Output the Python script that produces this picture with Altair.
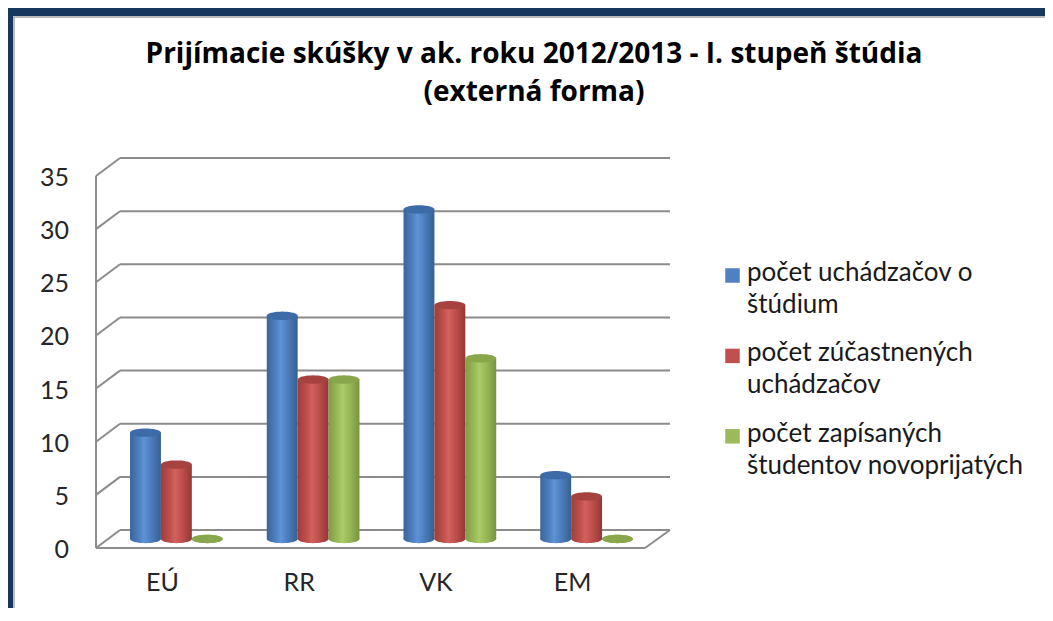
import math
import altair as alt
import pandas as pd

# ---------------- data ----------------
CATEGORIES = ["EÚ", "RR", "VK", "EM"]
SERIES = [
    "počet uchádzačov o štúdium",
    "počet zúčastnených uchádzačov",
    "počet zapísaných študentov novoprijatých",
]
UCHADZACI = [10, 21, 31, 6]
ZUCASTNENI = [7, 15, 22, 4]
ZAPISANI = [0, 15, 17, 0]
LEGEND_LINE1 = ["počet uchádzačov o", "počet zúčastnených", "počet zapísaných"]
LEGEND_LINE2 = ["štúdium", "uchádzačov", "študentov novoprijatých"]
TICKS = [0, 5, 10, 15, 20, 25, 30, 35]
TITLE_LINES = ["Prijímacie skúšky v ak. roku 2012/2013 - I. stupeň štúdia", "(externá forma)"]

# ---------------- style ----------------
W, H = 1037, 600
FONT = "Lato"
TITLE_FONT = "Open Sans"
NAVY = "#17375E"
GRID = "#8C8C8C"
BACK = 1.69   # depth offset of back wall in value units
MID = 0.85    # depth of the bars (mid floor)
YSCALE = dict(domain=[0, 35], range=[540, 168], nice=False, zero=False)
XSCALE = alt.Scale(domain=CATEGORIES, range=[100, 647], paddingInner=0.322, paddingOuter=0.161)
OFFSCALE = alt.Scale(domain=SERIES, paddingInner=0, paddingOuter=0)

BODY = [
    ("#3A6599", "#4F81C2", "#5E93D6", "#4A7BBA", "#36608F"),
    ("#9E3D3A", "#C0504D", "#D3625E", "#BC4E4B", "#933836"),
    ("#7F9C44", "#9BBB59", "#AACB68", "#96B656", "#789440"),
]
TOPS = ["#3C6BA8", "#A64340", "#88A64A"]

# ellipse path for the cylinder caps
pts = []
for i in range(40):
    a = 2 * math.pi * i / 40
    pts.append(f"{math.cos(a):.4f},{0.27 * math.sin(a):.4f}")
ELLIPSE = "M" + " L".join(pts) + " Z"
CAP_SIZE = 955

rows = []
for s, vals in zip(SERIES, [UCHADZACI, ZUCASTNENI, ZAPISANI]):
    for c, v in zip(CATEGORIES, vals):
        rows.append({"kategoria": c, "seria": s, "hodnota": v})
bars_df = pd.DataFrame(rows)

tick_df = pd.DataFrame({"tick": TICKS})
legend_df = pd.DataFrame({
    "seria": SERIES,
    "rank": list(range(len(SERIES))),
    "text": [a + "\n" + b for a, b in zip(LEGEND_LINE1, LEGEND_LINE2)],
})
title_df = pd.DataFrame({"t": ["\n".join(TITLE_LINES)]})
cat_df = pd.DataFrame({"kategoria": CATEGORIES})
one = pd.DataFrame({"a": [1]})


def ysc():
    return alt.Scale(**YSCALE)


def grad(stops):
    offs = [0, 0.3, 0.45, 0.7, 1]
    return alt.Gradient(
        gradient="linear", x1=0, x2=1, y1=0, y2=0,
        stops=[alt.GradientStop(color=c, offset=o) for c, o in zip(stops, offs)],
    )


layers = []

# frame
layers.append(alt.Chart(one).mark_rect(color=NAVY).encode(
    x=alt.value(0), x2=alt.value(W), y=alt.value(0), y2=alt.value(8)))
layers.append(alt.Chart(one).mark_rect(color=NAVY).encode(
    x=alt.value(0), x2=alt.value(5), y=alt.value(0), y2=alt.value(H)))
layers.append(alt.Chart(one).mark_rule(color="#A6A6A6", strokeWidth=1.5).encode(
    x=alt.value(5), x2=alt.value(W), y=alt.value(9), y2=alt.value(9)))
layers.append(alt.Chart(one).mark_rule(color="#A6A6A6", strokeWidth=1.5).encode(
    x=alt.value(6), x2=alt.value(6), y=alt.value(9), y2=alt.value(H)))

# walls / grid
gbase = alt.Chart(tick_df).transform_calculate(back=f"datum.tick + {BACK}")
layers.append(gbase.mark_rule(color=GRID, strokeWidth=2).encode(
    y=alt.Y("back:Q", scale=ysc(), axis=None), x=alt.value(112), x2=alt.value(662)))
layers.append(gbase.mark_rule(color=GRID, strokeWidth=2).encode(
    y=alt.Y("tick:Q", scale=ysc(), axis=None), y2="back:Q", x=alt.value(88), x2=alt.value(112)))
layers.append(gbase.transform_aggregate(lo="min(tick)", hi="max(tick)").mark_rule(
    color=GRID, strokeWidth=2).encode(
    y=alt.Y("lo:Q", scale=ysc(), axis=None), y2="hi:Q", x=alt.value(88)))
floor = gbase.transform_filter("datum.tick == 0")
layers.append(floor.mark_rule(color=GRID, strokeWidth=2).encode(
    y=alt.Y("tick:Q", scale=ysc(), axis=None), x=alt.value(88), x2=alt.value(637)))
layers.append(floor.mark_rule(color=GRID, strokeWidth=2).encode(
    y=alt.Y("tick:Q", scale=ysc(), axis=None), y2="back:Q", x=alt.value(637), x2=alt.value(662)))

# y labels
layers.append(alt.Chart(tick_df).mark_text(
    font=FONT, fontSize=25, color="#262626", align="right", baseline="alphabetic", dy=10).encode(
    y=alt.Y("tick:Q", scale=ysc(), axis=None), x=alt.value(61), text=alt.Text("tick:Q")))

# x labels
layers.append(alt.Chart(cat_df).mark_text(
    font=FONT, fontSize=25, color="#262626", align="center", baseline="alphabetic", dx=-14).encode(
    x=alt.X("kategoria:N", scale=XSCALE, axis=None, sort=CATEGORIES),
    y=alt.value(583), text="kategoria:N"))

# cylinders
for s, body, top in zip(SERIES, BODY, TOPS):
    b = alt.Chart(bars_df).transform_filter(alt.datum.seria == s).transform_calculate(
        base=f"{MID}", top=f"datum.hodnota + {MID}")
    xenc = alt.X("kategoria:N", scale=XSCALE, axis=None, sort=CATEGORIES)
    oenc = alt.XOffset("seria:N", scale=OFFSCALE, sort=SERIES)
    layers.append(b.mark_point(shape=ELLIPSE, size=CAP_SIZE, filled=True, opacity=1,
                               color=grad(body), strokeWidth=0).encode(
        x=xenc, xOffset=oenc, y=alt.Y("base:Q", scale=ysc(), axis=None)))
    layers.append(b.mark_bar(color=grad(body), cornerRadius=0).encode(
        x=xenc, xOffset=oenc, y=alt.Y("top:Q", scale=ysc(), axis=None), y2="base:Q"))
    layers.append(b.mark_point(shape=ELLIPSE, size=CAP_SIZE, filled=True, opacity=1,
                               color=top, strokeWidth=0).encode(
        x=xenc, xOffset=oenc, y=alt.Y("top:Q", scale=ysc(), axis=None)))

# legend
lscale = alt.Scale(domain=[0, 2], range=[267.5, 428.3], nice=False, zero=False)
layers.append(alt.Chart(legend_df).mark_square(size=210, opacity=1, filled=True).encode(
    x=alt.value(724.5), y=alt.Y("rank:Q", scale=lscale, axis=None),
    color=alt.Color("seria:N", scale=alt.Scale(domain=SERIES, range=[b[1] for b in BODY]), legend=None)))
layers.append(alt.Chart(legend_df).mark_text(
    font=FONT, fontSize=26, color="#1A1A1A", align="left", baseline="alphabetic",
    lineBreak="\n", lineHeight=32, dy=5.5).encode(
    x=alt.value(739), y=alt.Y("rank:Q", scale=lscale, axis=None), text="text:N"))

# title
layers.append(alt.Chart(title_df).mark_text(
    font=TITLE_FONT, fontSize=28, fontWeight="bold", color="#000000", align="center",
    baseline="alphabetic", lineBreak="\n", lineHeight=38).encode(
    x=alt.value(526), y=alt.value(55), text="t:N"))

chart = alt.layer(*layers).resolve_scale(y="independent", color="independent").properties(
    width=W, height=H, padding=0, autosize=alt.AutoSizeParams(type="none"),
    background="white",
).configure_view(strokeWidth=0)

chart.save("out.html", embed_options={"renderer": "svg", "actions": False})
